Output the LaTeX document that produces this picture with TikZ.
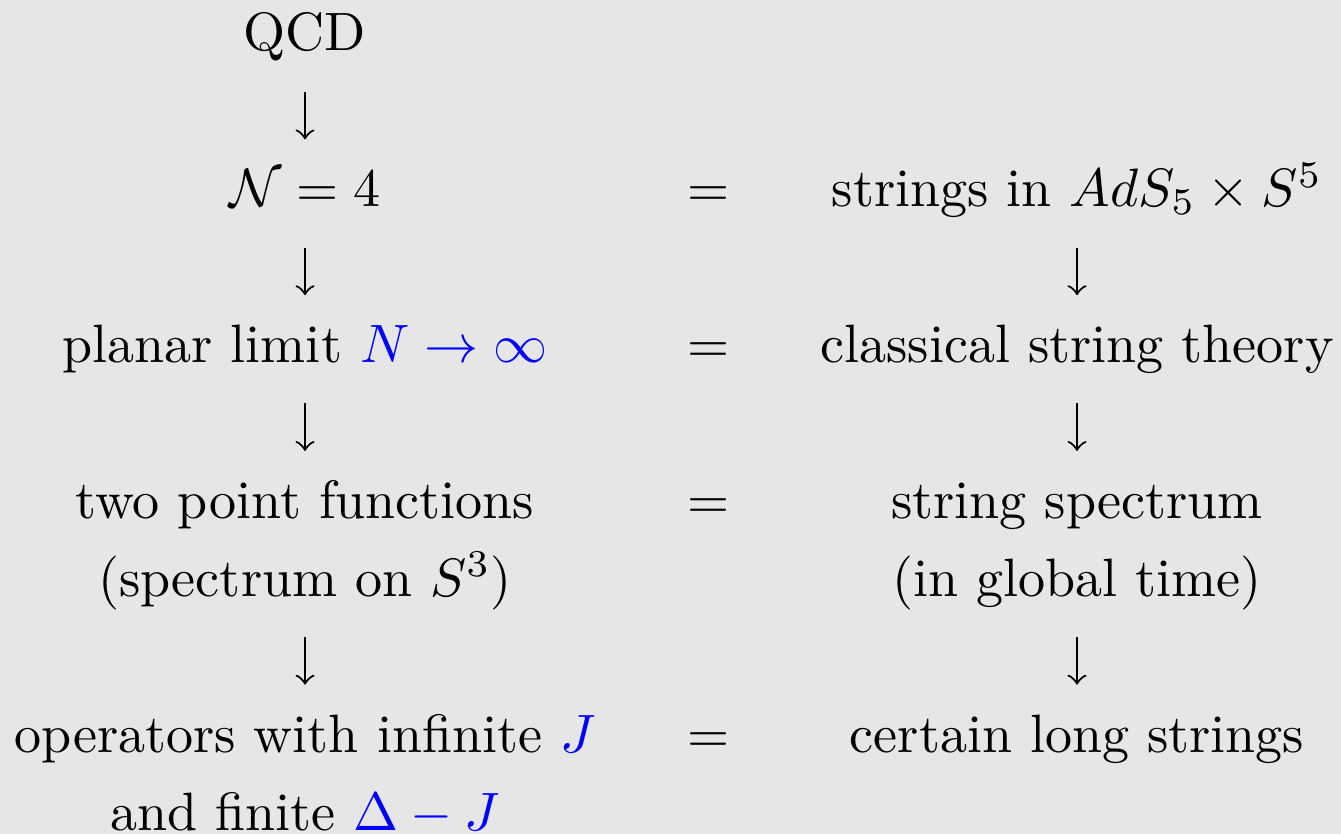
\documentclass[tikz,border=0pt]{standalone}
\usetikzlibrary{calc,arrows}
\definecolor{bggray}{RGB}{230,230,230}
\begin{document}
\begin{tikzpicture}[x=0.185pt, y=-0.185pt,
  lbl/.style={anchor=base, inner sep=0pt, outer sep=0pt},
  arr/.style={-to, line width=0.4pt}]
\fill[bggray] (0,0) rectangle (1341,834);
\useasboundingbox (0,0) rectangle (1341,834);
% left column (x = 305)
\node[lbl] (qcd)  at (305,51)    {QCD};
\node[lbl] (n4)   at (305,206.8) {$\mathcal{N}=4$};
\node[lbl] (pl)   at (305,362.6) {planar limit {\color{blue}$N\to\infty$}};
\node[lbl] (tpf)  at (305,518.4) {two point functions};
\node[lbl] (spec) at (305,596.3) {(spectrum on $S^3$)};
\node[lbl] (ops)  at (305,752.1) {operators with infinite {\color{blue}$J$}};
\node[lbl] (fin)  at (305,830)   {and finite {\color{blue}$\Delta-J$}};
% middle column (x = 708)
\node[lbl] (eq1) at (708,206.8) {$=$};
\node[lbl] (eq2) at (708,362.6) {$=$};
\node[lbl] (eq3) at (708,518.4) {$=$};
\node[lbl] (eq4) at (708,752.1) {$=$};
% right column (x = 1077)
\node[lbl] (str)  at (1077,206.8) {strings in $AdS_5\times S^5$};
\node[lbl] (cls)  at (1077,362.6) {classical string theory};
\node[lbl] (sspec) at (1077,518.4) {string spectrum};
\node[lbl] (glob) at (1077,596.3) {(in global time)};
\node[lbl] (lng)  at (1077,752.1) {certain long strings};
% arrows
\draw[arr] ($(qcd.base)+(0,40.8)$) -- ($(n4.base)+(0,-67.5)$);
\draw[arr] ($(n4.base)+(0,40.8)$) -- ($(pl.base)+(0,-67.5)$);
\draw[arr] ($(pl.base)+(0,40.8)$) -- ($(tpf.base)+(0,-67.5)$);
\draw[arr] ($(spec.base)+(0,40.8)$) -- ($(ops.base)+(0,-67.5)$);
\draw[arr] ($(str.base)+(0,40.8)$) -- ($(cls.base)+(0,-67.5)$);
\draw[arr] ($(cls.base)+(0,40.8)$) -- ($(sspec.base)+(0,-67.5)$);
\draw[arr] ($(glob.base)+(0,40.8)$) -- ($(lng.base)+(0,-67.5)$);
\end{tikzpicture}
\end{document}
